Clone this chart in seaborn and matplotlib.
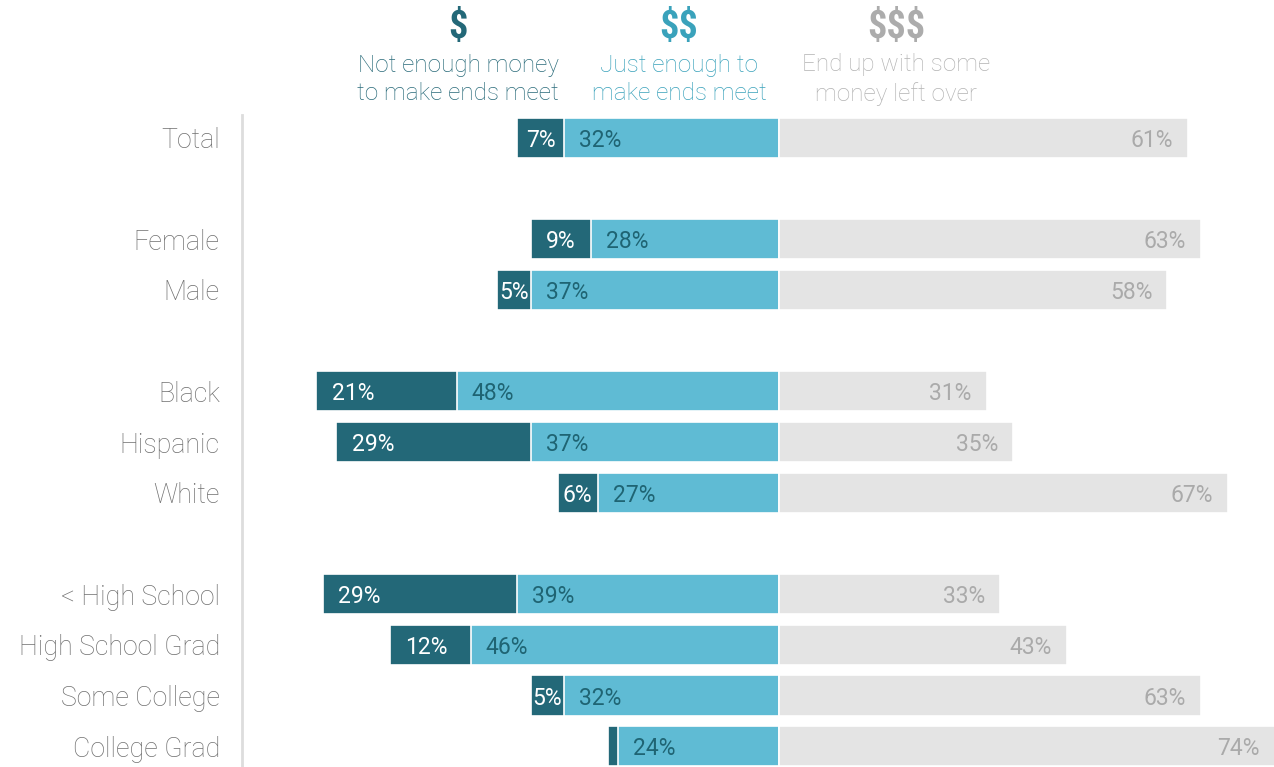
import matplotlib
matplotlib.use("Agg")
import matplotlib.pyplot as plt
import seaborn as sns
import pandas as pd
import numpy as np

categories = ["Total", "Female", "Male", "Black", "Hispanic", "White",
              "< High School", "High School Grad", "Some College", "College Grad"]
positions = [0, 2, 3, 5, 6, 7, 9, 10, 11, 12]
not_enough = [7, 9, 5, 21, 29, 6, 29, 12, 5, 1.5]
just_enough = [32, 28, 37, 48, 37, 27, 39, 46, 32, 24]
left_over = [61, 63, 58, 31, 35, 67, 33, 43, 63, 74]
show_dark_label = [True, True, True, True, True, True, True, True, True, False]

headers = ["$", "$$", "$$$"]
subtitles = ["Not enough money\nto make ends meet", "Just enough to\nmake ends meet",
             "End up with some\nmoney left over"]

DARK = "#236878"
LIGHT = "#5fbbd4"
GRAY = "#e4e4e4"
HEAD_COLORS = ["#236878", "#3aa2bb", "#acacac"]
SUB_COLORS = ["#2a6b7a", "#3aa2bb", "#b3b3b3"]

sns.set_theme(style="white")
plt.rcParams["font.family"] = ["Roboto", "DejaVu Sans"]
plt.rcParams["text.parse_math"] = False

df = pd.DataFrame({
    "cat": categories, "pos": positions,
    "dark": not_enough, "light": just_enough, "gray": left_over,
})
df["left_total"] = -(df["dark"] + df["light"])
df["left_light"] = -df["light"]

fig = plt.figure(figsize=(12.74, 7.67), dpi=100)
ax = fig.add_axes([242 / 1274, 0.0, 1 - 242 / 1274, 1 - 115 / 767])

common = dict(data=df, y="pos", orient="h", native_scale=True, width=0.79,
              edgecolor="white", linewidth=1.2, ax=ax)
sns.barplot(x="left_total", color=DARK, saturation=1, **common)
sns.barplot(x="left_light", color=LIGHT, saturation=1, **common)
sns.barplot(x="gray", color=GRAY, saturation=1, **common)

ax.set_xlim(-80.1, 73.9)
ax.set_ylim(12.41, -0.45)
ax.set_xlabel("")
ax.set_ylabel("")
ax.set_xticks([])
ax.set_yticks(positions)
ax.set_yticklabels(categories, fontsize=19.3, color="#707070", fontweight="light")
ax.tick_params(axis="y", length=0, pad=16)
for s in ["top", "right", "bottom"]:
    ax.spines[s].set_visible(False)
ax.spines["left"].set_color("#dddddd")
ax.spines["left"].set_linewidth(2)

fs = 16.5
for i, r in df.iterrows():
    y = r["pos"]
    d, l, g = r["dark"], r["light"], r["gray"]
    if show_dark_label[i]:
        start = -(d + l)
        if d >= 10:
            ax.text(start + 2.3, y, f"{d:g}%", ha="left", va="center_baseline", color="white",
                    fontsize=fs)
        else:
            ax.text(start + d / 2, y, f"{d:g}%", ha="center", va="center_baseline", color="white",
                    fontsize=fs)
    ax.text(-l + 2.2, y, f"{l:g}%", ha="left", va="center_baseline", color="#1f6473", fontsize=fs)
    ax.text(g - 2.2, y, f"{g:g}%", ha="right", va="center_baseline", color="#aaaaaa", fontsize=fs)

head_x = [458, 679, 896]
for hx, h, sub, hc, sc in zip(head_x, headers, subtitles, HEAD_COLORS, SUB_COLORS):
    fig.text(hx / 1274, 1 - 28 / 767, h, ha="center", va="center", color=hc,
             fontsize=27.5, fontweight="bold", family=["Roboto Condensed", "Roboto", "DejaVu Sans"])
    fig.text(hx / 1274, 1 - 79.5 / 767, sub, ha="center", va="center", color=sc,
             fontsize=17.5, fontweight="light", linespacing=1.3)

fig.savefig("out.png", dpi=100)
